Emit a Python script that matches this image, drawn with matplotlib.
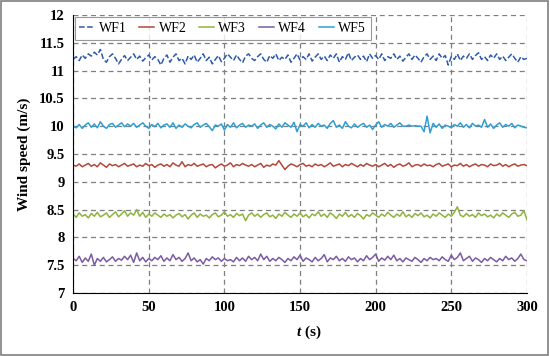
import numpy as np
import matplotlib
matplotlib.use('Agg')
import matplotlib.pyplot as plt
from matplotlib.patches import Rectangle

# Wind speed samples (m/s), one value every 2 s from 0 to 300 s
wf1 = [11.2, 11.25, 11.18, 11.28, 11.22, 11.3, 11.26, 11.33, 11.28, 11.38, 11.2, 11.15, 11.25, 11.3, 11.22, 11.12, 11.2, 11.27, 11.18, 11.24,
       11.3, 11.2, 11.26, 11.17, 11.23, 11.28, 11.19, 11.25, 11.2, 11.1, 11.22, 11.28, 11.15, 11.24, 11.3, 11.18, 11.22, 11.12, 11.26, 11.2,
       11.28, 11.15, 11.22, 11.3, 11.18, 11.24, 11.12, 11.2, 11.27, 11.16, 11.22, 11.3, 11.24, 11.18, 11.28, 11.2, 11.14, 11.26, 11.3, 11.22,
       11.18, 11.25, 11.3, 11.2, 11.15, 11.27, 11.22, 11.3, 11.18, 11.24, 11.2, 11.28, 11.15, 11.22, 11.3, 11.19, 11.25, 11.2, 11.3, 11.17,
       11.24, 11.3, 11.2, 11.26, 11.18, 11.28, 11.22, 11.3, 11.15, 11.25, 11.2, 11.32, 11.18, 11.24, 11.28, 11.2, 11.26, 11.16, 11.3, 11.22,
       11.27, 11.2, 11.3, 11.18, 11.25, 11.22, 11.3, 11.2, 11.26, 11.17, 11.24, 11.3, 11.2, 11.28, 11.22, 11.15, 11.25, 11.3, 11.2, 11.26,
       11.18, 11.3, 11.22, 11.27, 11.1, 11.25, 11.2, 11.3, 11.18, 11.26, 11.22, 11.3, 11.2, 11.27, 11.32, 11.2, 11.25, 11.18, 11.28, 11.22,
       11.3, 11.2, 11.26, 11.18, 11.24, 11.3, 11.22, 11.15, 11.25, 11.2, 11.22]

wf2 = [9.3, 9.28, 9.32, 9.27, 9.3, 9.33, 9.28, 9.31, 9.27, 9.34, 9.3, 9.26, 9.32, 9.29, 9.31, 9.27, 9.3, 9.33, 9.28, 9.3,
       9.32, 9.27, 9.3, 9.28, 9.33, 9.29, 9.31, 9.26, 9.3, 9.32, 9.28, 9.31, 9.27, 9.34, 9.3, 9.28, 9.36, 9.27, 9.31, 9.29,
       9.33, 9.28, 9.3, 9.32, 9.27, 9.3, 9.31, 9.25, 9.29, 9.32, 9.28, 9.3, 9.34, 9.27, 9.31, 9.29, 9.33, 9.3, 9.28, 9.31,
       9.27, 9.3, 9.33, 9.26, 9.3, 9.28, 9.32, 9.3, 9.38, 9.3, 9.22, 9.28, 9.32, 9.3, 9.27, 9.31, 9.33, 9.28, 9.3, 9.27,
       9.32, 9.29, 9.31, 9.27, 9.3, 9.34, 9.28, 9.3, 9.32, 9.27, 9.31, 9.29, 9.33, 9.3, 9.27, 9.31, 9.28, 9.33, 9.3, 9.28,
       9.31, 9.27, 9.3, 9.33, 9.28, 9.31, 9.26, 9.3, 9.32, 9.28, 9.3, 9.34, 9.27, 9.3, 9.31, 9.28, 9.32, 9.29, 9.3, 9.27,
       9.31, 9.33, 9.28, 9.3, 9.32, 9.27, 9.3, 9.29, 9.33, 9.28, 9.31, 9.27, 9.3, 9.32, 9.28, 9.31, 9.3, 9.27, 9.32, 9.29,
       9.3, 9.33, 9.28, 9.31, 9.27, 9.3, 9.32, 9.28, 9.3, 9.31, 9.29]

wf3 = [8.42, 8.36, 8.44, 8.38, 8.41, 8.35, 8.43, 8.38, 8.45, 8.37, 8.4, 8.44, 8.36, 8.41, 8.46, 8.37, 8.42, 8.48, 8.38, 8.44,
       8.4, 8.5, 8.38, 8.45, 8.36, 8.42, 8.38, 8.44, 8.4, 8.36, 8.42, 8.38, 8.41, 8.35, 8.4, 8.43, 8.37, 8.41, 8.33, 8.4,
       8.44, 8.36, 8.42, 8.38, 8.4, 8.35, 8.41, 8.44, 8.37, 8.4, 8.46, 8.38, 8.41, 8.36, 8.43, 8.39, 8.42, 8.3, 8.4, 8.44,
       8.38, 8.42, 8.36, 8.41, 8.44, 8.37, 8.4, 8.34, 8.42, 8.38, 8.45, 8.4, 8.36, 8.42, 8.38, 8.44, 8.37, 8.41, 8.35, 8.42,
       8.39, 8.46, 8.38, 8.42, 8.36, 8.44, 8.4, 8.34, 8.42, 8.38, 8.45, 8.37, 8.41, 8.36, 8.43, 8.39, 8.33, 8.41, 8.38, 8.44,
       8.4, 8.36, 8.42, 8.38, 8.45, 8.4, 8.36, 8.42, 8.38, 8.46, 8.37, 8.41, 8.36, 8.43, 8.39, 8.44, 8.37, 8.4, 8.35, 8.42,
       8.38, 8.44, 8.4, 8.36, 8.42, 8.38, 8.45, 8.55, 8.4, 8.37, 8.43, 8.38, 8.41, 8.36, 8.44, 8.39, 8.42, 8.37, 8.4, 8.35,
       8.42, 8.38, 8.44, 8.4, 8.36, 8.42, 8.45, 8.38, 8.4, 8.48, 8.32]

wf4 = [7.62, 7.58, 7.66, 7.55, 7.63, 7.57, 7.7, 7.5, 7.62, 7.57, 7.64, 7.56, 7.6, 7.65, 7.57, 7.62, 7.59, 7.66, 7.6, 7.68,
       7.55, 7.72, 7.58, 7.64, 7.56, 7.62, 7.58, 7.64, 7.6, 7.67, 7.57, 7.63, 7.58, 7.69, 7.6, 7.64, 7.57, 7.62, 7.72, 7.58,
       7.63, 7.56, 7.6, 7.52, 7.62, 7.58, 7.65, 7.6, 7.63, 7.57, 7.62, 7.58, 7.6, 7.56, 7.64, 7.58, 7.63, 7.57, 7.66, 7.6,
       7.64, 7.58, 7.7, 7.6, 7.66, 7.57, 7.62, 7.58, 7.64, 7.6, 7.55, 7.62, 7.58, 7.65, 7.6, 7.68, 7.57, 7.63, 7.6, 7.56,
       7.64, 7.58, 7.62, 7.69, 7.56, 7.63, 7.6, 7.66, 7.58, 7.62, 7.57, 7.65, 7.6, 7.63, 7.56, 7.62, 7.58, 7.67, 7.6, 7.64,
       7.7, 7.57, 7.63, 7.59, 7.66, 7.6, 7.68, 7.58, 7.62, 7.56, 7.63, 7.6, 7.57, 7.64, 7.6, 7.55, 7.62, 7.58, 7.64, 7.6,
       7.62, 7.58, 7.65, 7.6, 7.57, 7.68, 7.6, 7.64, 7.72, 7.58, 7.62, 7.66, 7.57, 7.63, 7.6, 7.55, 7.62, 7.58, 7.64, 7.6,
       7.56, 7.62, 7.58, 7.66, 7.6, 7.63, 7.57, 7.62, 7.7, 7.6, 7.58]

wf5 = [10.0, 9.97, 10.03, 9.96, 10.02, 10.06, 9.98, 10.04, 9.97, 10.08, 10.0, 9.96, 10.03, 10.05, 9.98, 10.02, 10.06, 9.99, 10.04, 10.0,
       10.05, 9.98, 10.02, 10.06, 10.0, 9.96, 10.03, 9.99, 10.05, 9.97, 10.02, 10.04, 9.98, 10.06, 9.96, 10.02, 9.98, 10.04, 10.0, 9.97,
       10.03, 10.06, 9.98, 10.02, 10.05, 9.99, 9.92, 10.02, 10.0, 10.04, 9.93, 10.03, 9.98, 10.06, 9.97, 10.02, 10.05, 9.98, 10.02, 10.0,
       10.04, 9.96, 10.02, 10.06, 9.98, 10.03, 10.0, 9.95, 10.04, 9.98, 10.06, 10.02, 9.98, 10.07, 9.9, 10.03, 10.0, 10.06, 9.97, 10.03,
       9.98, 10.05, 10.0, 10.02, 9.96, 10.05, 10.1, 9.98, 10.02, 9.96, 10.08, 10.0, 9.97, 10.04, 9.98, 10.02, 10.05, 9.98, 10.02, 9.94,
       10.02, 10.08, 9.98, 10.03, 10.0, 10.05, 9.98, 10.02, 10.06, 10.0, 10.0, 10.02, 10.0, 10.01, 10.0, 10.0, 9.9, 10.18, 9.88, 10.05,
       9.98, 10.04, 9.96, 10.02, 10.0, 9.97, 10.03, 10.0, 10.06, 9.98, 10.03, 9.97, 10.05, 10.0, 10.02, 9.98, 10.12, 9.98, 10.04, 9.96,
       10.02, 10.06, 9.98, 10.03, 10.0, 10.05, 9.97, 10.02, 10.0, 9.98, 9.97]

labels = ['WF1', 'WF2', 'WF3', 'WF4', 'WF5']
colors = ['#2E5BAA', '#B4473A', '#8DB43C', '#7A5BA6', '#2D9FD4']
styles = ['--', '-', '-', '-', '-']

plt.rcParams['font.family'] = ['Liberation Serif', 'DejaVu Serif']
plt.rcParams['mathtext.fontset'] = 'custom'
plt.rcParams['mathtext.it'] = 'Liberation Serif:italic:bold'
plt.rcParams['mathtext.rm'] = 'Liberation Serif:bold'

fig = plt.figure(figsize=(5.5, 3.56), dpi=100)
ax = fig.add_axes([0.133, 0.177, 0.825, 0.781])
fig.patches.append(Rectangle((0.002, 0.003), 0.995, 0.994, transform=fig.transFigure,
                             fill=False, edgecolor='#7f7f7f', linewidth=1.2))

for series, lab, col, ls in zip([wf1, wf2, wf3, wf4, wf5], labels, colors, styles):
    t = np.linspace(0, 300, len(series))
    ax.plot(t, series, ls, color=col, lw=1.1, label=lab)

ax.set_xlim(0, 300)
ax.set_ylim(7, 12)
ax.set_xticks(np.arange(0, 301, 50))
ax.set_yticks(np.arange(7, 12.01, 0.5))
ax.set_yticklabels(['7', '7.5', '8', '8.5', '9', '9.5', '10', '10.5', '11', '11.5', '12'])
ax.grid(True, color='#7f7f7f', linestyle=(0, (4, 3)), linewidth=0.9)
ax.set_axisbelow(True)
ax.spines['top'].set_visible(False)
ax.spines['right'].set_visible(False)
ax.tick_params(length=0, labelsize=10.5, pad=6)
for lbl in ax.get_xticklabels() + ax.get_yticklabels():
    lbl.set_fontweight('bold')

ax.set_ylabel('Wind speed (m/s)', fontsize=11, fontweight='bold', labelpad=6)
ax.set_xlabel(r'$t$ (s)', fontsize=11, fontweight='bold', labelpad=4)
ax.xaxis.set_label_coords(0.52, -0.11)

leg = ax.legend(loc='upper left', ncol=5, fontsize=10, frameon=True, fancybox=False,
                edgecolor='#7f7f7f', handlelength=1.1, columnspacing=0.9,
                handletextpad=0.3, borderpad=0.35, borderaxespad=0,
                bbox_to_anchor=(0.003, 0.993))
leg.get_frame().set_linewidth(0.8)

fig.savefig('out.png', dpi=100)
